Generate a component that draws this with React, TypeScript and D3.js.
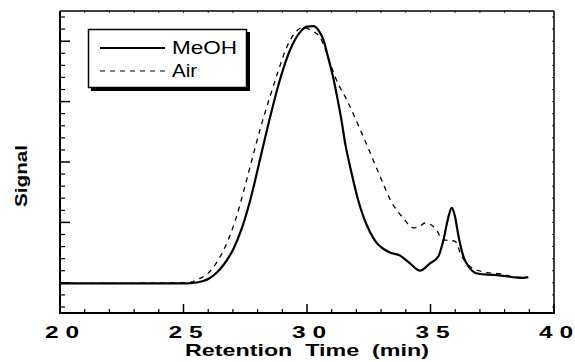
import React from "react";
import * as d3 from "d3";

const meohTime = [20, 22, 24, 25, 25.3, 25.53, 25.8, 26.07, 26.35, 26.61, 27.02, 27.36, 27.69, 27.96, 28.17, 28.57, 28.91, 29.31, 29.72, 30.0, 30.26, 30.5, 30.66, 30.85, 31.06, 31.2, 31.4, 31.54, 31.74, 31.87, 32.05, 32.28, 32.55, 32.82, 33.1, 33.36, 33.77, 34.17, 34.57, 34.98, 35.32, 35.52, 35.72, 35.86, 35.99, 36.13, 36.33, 36.6, 36.94, 37.54, 38.22, 38.62, 38.96];
const meohSignal = [-0.01, -0.01, -0.01, -0.01, -0.005, 0.005, 0.03, 0.08, 0.17, 0.29, 0.56, 0.9, 1.35, 1.8, 2.17, 2.85, 3.37, 3.85, 4.15, 4.24, 4.25, 4.16, 4.03, 3.74, 3.4, 3.12, 2.68, 2.32, 1.93, 1.7, 1.4, 1.1, 0.84, 0.66, 0.56, 0.5, 0.45, 0.32, 0.2, 0.32, 0.44, 0.7, 1.08, 1.24, 1.1, 0.78, 0.44, 0.24, 0.15, 0.13, 0.1, 0.08, 0.095];

const airTime = [20, 22, 24, 25, 25.3, 25.53, 25.75, 26.0, 26.41, 26.81, 27.15, 27.49, 27.76, 28.1, 28.5, 28.83, 29.18, 29.58, 29.84, 30.2, 30.5, 30.93, 31.13, 31.67, 32.15, 32.55, 32.96, 33.43, 33.9, 34.3, 34.5, 34.78, 35.18, 35.52, 35.99, 36.25, 36.6, 37.28, 37.81, 38.34, 38.89];
const airSignal = [-0.01, -0.01, -0.005, 0, 0.01, 0.05, 0.09, 0.16, 0.38, 0.71, 1.1, 1.6, 2.02, 2.54, 3.08, 3.5, 3.9, 4.17, 4.23, 4.17, 4.08, 3.65, 3.42, 2.98, 2.54, 2.16, 1.76, 1.33, 1.07, 0.91, 0.92, 0.99, 0.91, 0.71, 0.69, 0.45, 0.27, 0.17, 0.15, 0.1, 0.09];

const xTickLabels = ["2 0", "2 5", "3 0", "3 5", "4 0"];
const xMajorTicks = [20, 25, 30, 35, 40];
const yMajorTicks = [0, 1, 2, 3, 4];
const seriesNames = ["MeOH", "Air"];
const xTitle = "Retention  Time  (min)";
const yTitle = "Signal";

const FONT = "'Liberation Sans', Arial, Helvetica, sans-serif";

export default function App() {
  const W = 575, H = 362;
  const x = d3.scaleLinear().domain([20, 40]).range([60, 554]);
  const y = d3.scaleLinear().domain([-0.5, 4.5]).range([313, 11]);

  const line = d3
    .line<[number, number]>()
    .x((d) => x(d[0]))
    .y((d) => y(d[1]))
    .curve(d3.curveMonotoneX);

  const meoh = meohTime.map((t, i) => [t, meohSignal[i]] as [number, number]);
  const air = airTime.map((t, i) => [t, airSignal[i]] as [number, number]);

  const xMinor = d3.range(20, 40.001, 1).filter((v) => v % 5 !== 0);
  const yMinor = d3.range(-0.4, 4.5, 0.2).filter((v) => Math.abs(v - Math.round(v)) > 0.01);
  const topMinor = d3.range(21, 40, 1);
  const rightMinor = d3.range(-0.4, 4.5, 0.2);

  const [x0, x1] = x.range();
  const [yb, yt] = y.range();

  return (
    <svg
      width={W}
      height={H}
      style={{ position: "absolute", left: 0, top: 0, background: "#fff" }}
      fontFamily={FONT}
    >
      <rect x={0} y={0} width={W} height={H} fill="#fff" />
      {/* frame */}
      <line x1={x0} y1={yt} x2={x1} y2={yt} stroke="#000" strokeWidth={1.5} />
      <line x1={x1} y1={yt} x2={x1} y2={yb} stroke="#000" strokeWidth={1.5} />
      <line x1={x0} y1={yt} x2={x0} y2={yb + 1} stroke="#000" strokeWidth={2} />
      <line x1={x0 - 1} y1={yb} x2={x1 + 0.75} y2={yb} stroke="#000" strokeWidth={2} />

      {/* x ticks */}
      {xMajorTicks.map((v) => (
        <line key={"xM" + v} x1={x(v)} x2={x(v)} y1={yb} y2={yb - 9} stroke="#000" strokeWidth={1.5} />
      ))}
      {xMinor.map((v) => (
        <line key={"xm" + v} x1={x(v)} x2={x(v)} y1={yb} y2={yb - 4} stroke="#000" strokeWidth={1.2} />
      ))}
      {topMinor.map((v) => (
        <line key={"tm" + v} x1={x(v)} x2={x(v)} y1={yt} y2={yt + 2} stroke="#000" strokeWidth={0.8} />
      ))}
      {/* y ticks */}
      {yMajorTicks.map((v) => (
        <line key={"yM" + v} x1={x0} x2={x0 + 10} y1={y(v)} y2={y(v)} stroke="#000" strokeWidth={1.5} />
      ))}
      {yMinor.map((v, i) => (
        <line key={"ym" + i} x1={x0} x2={x0 + 5} y1={y(v)} y2={y(v)} stroke="#000" strokeWidth={1.2} />
      ))}
      {rightMinor.map((v, i) => (
        <line key={"rm" + i} x1={x1} x2={x1 - 2} y1={y(v)} y2={y(v)} stroke="#000" strokeWidth={0.8} />
      ))}

      {/* curves */}
      <path d={line(air) || ""} fill="none" stroke="#000" strokeWidth={1.3} strokeDasharray="5,5" />
      <path d={line(meoh) || ""} fill="none" stroke="#000" strokeWidth={2.2} strokeLinejoin="round" />

      {/* x tick labels */}
      {xMajorTicks.map((v, i) => (
        <text
          key={"xl" + v}
          x={x(v) + 2}
          y={338}
          textAnchor="middle"
          fontSize={16}
          fontWeight="bold"
          textLength={34}
          lengthAdjust="spacingAndGlyphs"
          style={{ whiteSpace: "pre" }}
        >
          {xTickLabels[i]}
        </text>
      ))}
      <text
        x={x(30)}
        y={356}
        textAnchor="middle"
        fontSize={17}
        fontWeight="bold"
        textLength={244}
        lengthAdjust="spacingAndGlyphs"
        style={{ whiteSpace: "pre" }}
      >
        {xTitle}
      </text>
      <text
        transform="translate(27,176) rotate(-90)"
        textAnchor="middle"
        fontSize={17}
        fontWeight="bold"
        textLength={62}
        lengthAdjust="spacingAndGlyphs"
      >
        {yTitle}
      </text>

      {/* legend */}
      <rect x={91} y={32} width={159} height={59} fill="#000" />
      <rect x={88.5} y={29.5} width={158} height={58} fill="#fff" stroke="#000" strokeWidth={1.5} />
      <line x1={100} x2={165} y1={48} y2={48} stroke="#000" strokeWidth={1.8} />
      <line x1={100} x2={165} y1={71} y2={71} stroke="#000" strokeWidth={1.2} strokeDasharray="5,5" />
      <text x={172} y={54} fontSize={19} textLength={65} lengthAdjust="spacingAndGlyphs">
        {seriesNames[0]}
      </text>
      <text x={172} y={77} fontSize={19} textLength={25} lengthAdjust="spacingAndGlyphs">
        {seriesNames[1]}
      </text>
    </svg>
  );
}
